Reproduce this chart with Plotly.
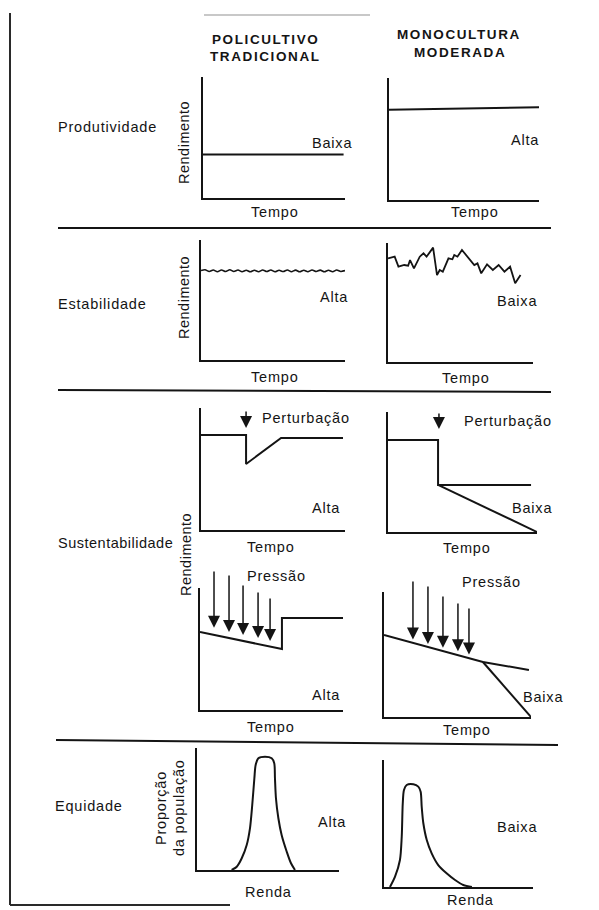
import plotly.graph_objects as go

W, H = 599, 910
INK = "#141414"
FONT = "Liberation Sans, Arial, Helvetica, sans-serif"

# ---------------- data (x = Tempo/Renda, y = Rendimento/Proporção, both on a 0-10 schematic scale)
prod_trad_t = [0, 9.9]
prod_trad_r = [3.6, 3.6]
prod_mono_t = [0, 10]
prod_mono_r = [7.4, 7.6]

estab_trad_t = [0, 0.28, 0.57, 0.85, 1.14, 1.42, 1.71, 2.0, 2.28, 2.57, 2.85, 3.14, 3.42, 3.71,
                4.0, 4.28, 4.57, 4.85, 5.14, 5.42, 5.71, 6.0, 6.28, 6.57, 6.85, 7.14, 7.42, 7.71,
                8.0, 8.28, 8.57, 8.85, 9.14, 9.42, 9.71, 10.0]
estab_trad_r = [7.45, 7.52, 7.38, 7.5, 7.36, 7.5, 7.37, 7.52, 7.38, 7.5, 7.36, 7.48, 7.35, 7.48,
                7.36, 7.5, 7.37, 7.5, 7.35, 7.48, 7.37, 7.5, 7.36, 7.49, 7.35, 7.48, 7.36, 7.5,
                7.37, 7.49, 7.35, 7.48, 7.36, 7.5, 7.38, 7.45]
estab_mono_t = [0, 0.46, 0.72, 1.12, 1.39, 1.52, 1.79, 2.19, 2.45, 2.66, 3.11, 3.38, 3.57, 3.78,
                4.17, 4.44, 4.57, 4.79, 5.10, 5.37, 5.63, 5.95, 6.17, 6.43, 6.83, 7.23, 7.63,
                8.03, 8.42, 8.77, 9.14]
estab_mono_r = [8.71, 8.85, 8.01, 8.15, 8.09, 8.57, 7.87, 8.85, 9.13, 8.85, 9.61, 7.31, 7.73, 7.59,
                8.71, 8.63, 8.99, 8.85, 9.41, 8.99, 8.57, 8.15, 8.29, 7.45, 8.21, 7.73, 8.15,
                7.59, 8.01, 6.61, 7.31]

pert_trad_t = [0, 3.13, 3.13, 5.56, 9.86]
pert_trad_r = [7.79, 7.79, 5.41, 7.54, 7.54]
pert_trad_arrow = [3.13, 9.84, 8.36]          # tempo, start, tip
pert_mono_t = [0, 3.36, 3.36, 9.6]
pert_mono_r = [7.67, 7.67, 3.92, 3.92]
pert_mono_fall_t = [3.36, 10]
pert_mono_fall_r = [3.92, 0]
pert_mono_arrow = [3.42, 10.0, 8.58]

press_trad_t = [0, 5.73, 5.73, 10]
press_trad_r = [6.39, 5.0, 7.54, 7.54]
press_trad_arrow_t = [0.98, 2.03, 3.01, 4.06, 4.90]
press_trad_arrow_top = [11.48, 11.15, 10.33, 9.75, 9.26]
press_trad_arrow_tip = [6.75, 6.4, 6.15, 5.9, 5.65]
press_mono_t = [0, 6.73, 9.86]
press_mono_r = [6.56, 4.4, 3.76]
press_mono_fall_t = [6.73, 10]
press_mono_fall_r = [4.4, 0]
press_mono_arrow_t = [1.97, 2.99, 4.01, 5.03, 5.78]
press_mono_arrow_top = [10.96, 10.56, 9.76, 9.2, 8.8]
press_mono_arrow_tip = [6.2, 5.85, 5.55, 5.25, 5.0]

eq_trad_renda = [2.44, 2.80, 3.15, 3.50, 3.73, 3.89, 4.04, 4.13, 4.32, 4.79, 5.26, 5.44, 5.49,
                 5.56, 5.73, 5.96, 6.32, 6.62, 6.90]
eq_trad_prop = [0, 0.27, 0.96, 2.05, 3.42, 5.33, 7.52, 8.61, 9.16, 9.29, 9.16, 8.75, 7.52,
                5.88, 4.24, 2.87, 1.5, 0.55, 0]
eq_mono_renda = [0.40, 0.74, 1.07, 1.19, 1.26, 1.34, 1.52, 1.97, 2.30, 2.46, 2.53, 2.64, 2.87,
                 3.2, 3.64, 4.2, 4.77, 5.32, 5.9]
eq_mono_prop = [0, 0.81, 2.13, 3.96, 6.59, 7.64, 8.03, 8.09, 7.9, 7.5, 6.32, 5.02, 3.7,
                2.65, 1.73, 1.08, 0.55, 0.16, 0]

headers = ["POLICULTIVO", "TRADICIONAL", "MONOCULTURA", "MODERADA"]
rows = ["Produtividade", "Estabilidade", "Sustentabilidade", "Equidade"]

# ---------------- layout geometry (pixel boxes: x0, x1, ytop, ybottom)
panels = {
    "p1l": (203, 345, 77, 198),
    "p1r": (389, 539, 78, 200),
    "p2l": (201, 345, 240, 360),
    "p2r": (388, 533, 243, 362),
    "p3al": (201, 345, 408, 530),
    "p3ar": (388, 537, 412, 532),
    "p3bl": (200, 343, 588, 710),
    "p3br": (384, 531, 592, 717),
    "p4l": (197, 339, 748, 870),
    "p4r": (384, 533, 760, 887),
}
order = list(panels.keys())
sfx = {k: ("" if i == 0 else str(i + 1)) for i, k in enumerate(order)}

fig = go.Figure()

for k, (x0, x1, yt, yb) in panels.items():
    s = sfx[k]
    common = dict(range=[0, 10], showline=True, linecolor=INK, linewidth=2, showgrid=False,
                  zeroline=False, showticklabels=False, ticks="", fixedrange=True)
    fig.update_layout(**{
        "xaxis" + s: dict(domain=[x0 / W, x1 / W], anchor="y" + s, **common),
        "yaxis" + s: dict(domain=[1 - yb / H, 1 - yt / H], anchor="x" + s, **common),
    })


def line(k, xs, ys, width=2.0, shape="linear"):
    s = sfx[k]
    fig.add_trace(go.Scatter(x=xs, y=ys, xaxis="x" + s, yaxis="y" + s, mode="lines",
                             line=dict(color=INK, width=width, shape=shape, smoothing=0.8),
                             hoverinfo="skip", showlegend=False))


def arrow(k, t, top, tip):
    s = sfx[k]
    fig.add_annotation(x=t, y=tip, ax=t, ay=top, xref="x" + s, yref="y" + s,
                       axref="x" + s, ayref="y" + s, showarrow=True, arrowhead=2,
                       arrowsize=1.6, arrowwidth=1.5, arrowcolor=INK, text="")


line("p1l", prod_trad_t, prod_trad_r)
line("p1r", prod_mono_t, prod_mono_r)
line("p2l", estab_trad_t, estab_trad_r, width=1.6, shape="spline")
line("p2r", estab_mono_t, estab_mono_r, width=1.8)
line("p3al", pert_trad_t, pert_trad_r)
arrow("p3al", *pert_trad_arrow)
line("p3ar", pert_mono_t, pert_mono_r)
line("p3ar", pert_mono_fall_t, pert_mono_fall_r)
arrow("p3ar", *pert_mono_arrow)
line("p3bl", press_trad_t, press_trad_r)
for t, a, b in zip(press_trad_arrow_t, press_trad_arrow_top, press_trad_arrow_tip):
    arrow("p3bl", t, a, b)
line("p3br", press_mono_t, press_mono_r)
line("p3br", press_mono_fall_t, press_mono_fall_r)
for t, a, b in zip(press_mono_arrow_t, press_mono_arrow_top, press_mono_arrow_tip):
    arrow("p3br", t, a, b)
line("p4l", eq_trad_renda, eq_trad_prop, shape="spline")
line("p4r", eq_mono_renda, eq_mono_prop, shape="spline")


def label(text, x, y, xanchor="center", size=14.5, bold=False, angle=0, spacing=0.8):
    t = f"<b>{text}</b>" if bold else text
    t = f'<span style="letter-spacing:{spacing}px">{t}</span>'
    fig.add_annotation(text=t, x=x / W, y=1 - y / H, xref="paper", yref="paper",
                       xanchor=xanchor, yanchor="middle", showarrow=False, textangle=angle,
                       font=dict(family=FONT, size=size, color=INK))


# column headers
label(headers[0], 265, 40, bold=True, size=13.5, spacing=1.6)
label(headers[1], 265, 56, bold=True, size=13.5, spacing=1.6)
label(headers[2], 459, 35, bold=True, size=13.5, spacing=1.6)
label(headers[3], 460, 52, bold=True, size=13.5, spacing=1.6)

# row labels
label(rows[0], 56, 127, xanchor="left")
label(rows[1], 56, 304, xanchor="left")
label(rows[2], 56, 543, xanchor="left", spacing=0.5)
label(rows[3], 53, 806, xanchor="left")

# axis titles
for (x, y) in [(184, 143), (184, 298), (186, 555)]:
    label("Rendimento", x, y, angle=-90, spacing=0.5)
label("Proporção", 161, 808, angle=-90)
label("da população", 179, 808, angle=-90)
for (x, y) in [(275, 212), (475, 212), (275, 377), (466, 378), (271, 547), (467, 548),
               (271, 727), (467, 730)]:
    label("Tempo", x, y)
label("Renda", 268, 892)
label("Renda", 470, 900)

# qualitative ratings
for txt, x, y, anc in [("Baixa", 354, 143, "right"), ("Alta", 541, 140, "right"),
                       ("Alta", 350, 297, "right"), ("Baixa", 539, 301, "right"),
                       ("Alta", 342, 508, "right"), ("Baixa", 554, 508, "right"),
                       ("Alta", 342, 695, "right"), ("Baixa", 565, 697, "right"),
                       ("Alta", 316, 822, "left"), ("Baixa", 539, 827, "right")]:
    label(txt, x, y, xanchor=anc)

label("Perturbação", 260, 418, xanchor="left")
label("Perturbação", 462, 421, xanchor="left")
label("Pressão", 245, 576, xanchor="left")
label("Pressão", 460, 582, xanchor="left")

# frame and separators
shapes = []


def seg(xa, ya, xb, yb, color=INK, width=2):
    shapes.append(dict(type="line", xref="paper", yref="paper", x0=xa / W, y0=1 - ya / H,
                       x1=xb / W, y1=1 - yb / H, line=dict(color=color, width=width)))


seg(10, 13, 10, 905, color="#2a2a2a")
seg(10, 905, 230, 905, color="#2a2a2a")
seg(204, 15, 370, 15, color="#c8c8c8")
seg(58, 228, 551, 228)
seg(58, 390, 551, 392)
seg(56, 740, 558, 745)
fig.update_layout(shapes=shapes)

fig.update_layout(width=W, height=H, margin=dict(l=0, r=0, t=0, b=0),
                  paper_bgcolor="white", plot_bgcolor="white", showlegend=False)

fig.write_html("out.html", config={"displayModeBar": False, "staticPlot": True},
               post_script="document.body.style.margin='0';document.body.style.padding='0';"
                           "document.body.style.overflow='hidden';")
